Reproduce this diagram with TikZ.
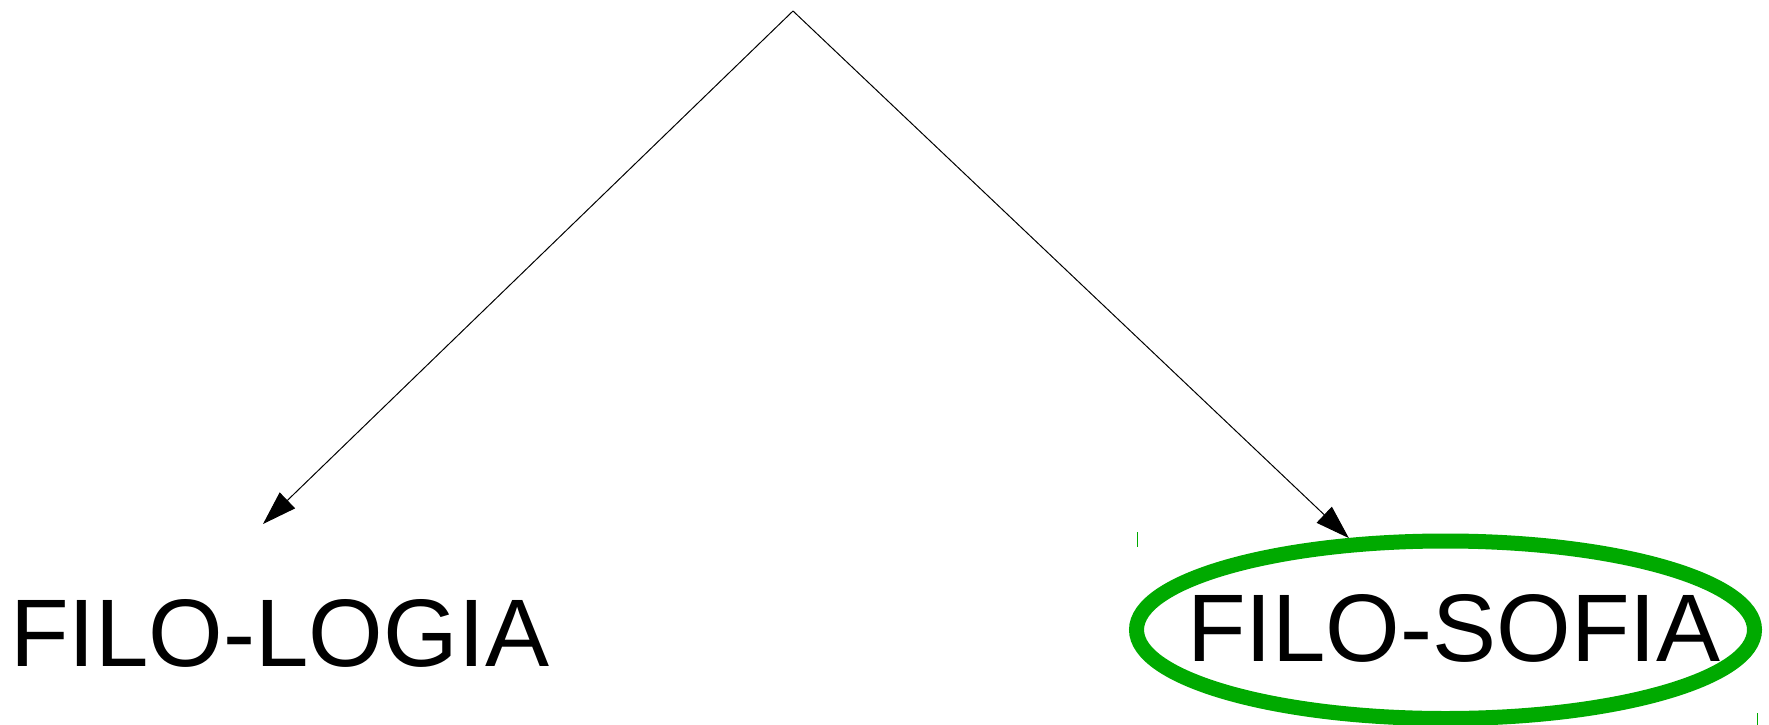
\documentclass[tikz,border=0pt]{standalone}
\usepackage{fontspec}
\setmainfont{Liberation Sans}
\usetikzlibrary{arrows.meta,shapes.geometric}
\definecolor{ringgreen}{RGB}{0,170,0}
\tikzset{
  conn/.style={line width=1pt, -{Triangle[length=34pt,width=22pt]}},
  bigword/.style={inner sep=0pt, anchor=base west, font=\fontsize{96}{100}\selectfont},
  ring/.style={ellipse, draw=ringgreen, line width=15pt, inner sep=0pt, minimum width=618pt, minimum height=177.5pt},
  tick/.style={draw=ringgreen, line width=1pt}
}
\begin{document}
\begin{tikzpicture}[x=1pt,y=-1pt]
\useasboundingbox (0,0) rectangle (1769,725);
\coordinate (apex) at (793,11);
\coordinate (lefttip) at (263,524);
\node[ring] (sofiaring) at (1445.5,629.75) {};
\node[bigword] (logia) at (10,666) {FILO-LOGIA};
\node[bigword] (sofia) at (1187,661) {FILO-SOFIA};
\draw[conn] (apex) -- (lefttip);
\draw[conn] (apex) -- (sofiaring);
\coordinate (t1a) at (1137,532);
\coordinate (t1b) at (1137,547);
\coordinate (t2a) at (1757,713);
\coordinate (t2b) at (1757,725);
\draw[tick] (t1a) -- (t1b);
\draw[tick] (t2a) -- (t2b);
\end{tikzpicture}
\end{document}
